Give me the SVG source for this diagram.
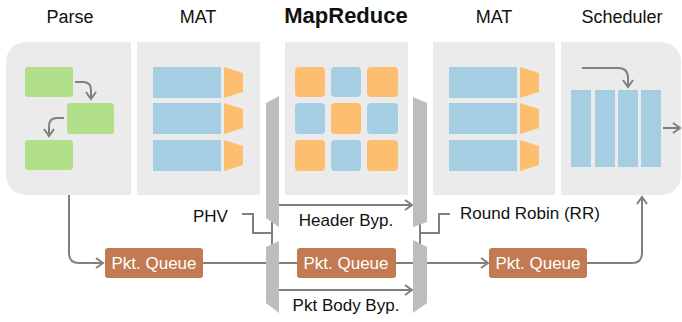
<svg xmlns="http://www.w3.org/2000/svg" width="682" height="322" viewBox="0 0 682 322">
<defs>
<style>
text{font-family:"Liberation Sans",Arial,sans-serif;fill:#111}
.t{font-size:18px;text-anchor:middle}
.tb{font-size:22px;font-weight:bold;text-anchor:middle}
.l{font-size:17px}
.q{font-size:17px;fill:#fff;text-anchor:middle}
.bg{fill:#ebebeb}
.g{fill:#b2df8a}
.b{fill:#a6cee3}
.o{fill:#fdbf6f}
.bar{fill:#bdbdbd}
.qb{fill:#c27a52}
.c{fill:none;stroke:#808080;stroke-width:2}
</style>
<marker id="ah" markerUnits="userSpaceOnUse" markerWidth="12" markerHeight="12" refX="7" refY="5" orient="auto" viewBox="-1 -1 10 12">
<path d="M0,0 L7,5 L0,10" fill="none" stroke="#808080" stroke-width="2"/>
</marker>
</defs>

<g id="titles">
<text class="t" x="70" y="23">Parse</text>
<text class="t" x="198" y="23">MAT</text>
<text class="tb" x="346" y="23">MapReduce</text>
<text class="t" x="494" y="23">MAT</text>
<text class="t" x="622" y="23">Scheduler</text>
</g>

<g id="parse">
<path class="bg" d="M26,42 H131 V195 H26 A20,20 0 0 1 6,175 V62 A20,20 0 0 1 26,42 Z"/>
<rect class="g" x="25" y="67" width="48" height="30" rx="3"/>
<rect class="g" x="67" y="103" width="47" height="31" rx="3"/>
<rect class="g" x="25" y="140" width="48" height="30" rx="3"/>
<path class="c" d="M75,82 H83 Q91,82 91,90 V99" marker-end="url(#ah)"/>
<path class="c" d="M64,118 H57 Q49,118 49,126 V136" marker-end="url(#ah)"/>
</g>

<g id="mat1">
<rect class="bg" x="137" y="42" width="123" height="153"/>
<rect class="b" x="153" y="67" width="68" height="31"/>
<rect class="b" x="153" y="103" width="68" height="31"/>
<rect class="b" x="153" y="140" width="68" height="31"/>
<polygon class="o" points="224,67 243,73 243,92 224,98"/>
<polygon class="o" points="224,103 243,109 243,128 224,134"/>
<polygon class="o" points="224,140 243,146 243,165 224,171"/>
</g>

<g id="mapreduce">
<rect class="bg" x="285" y="42" width="123" height="153"/>
<rect class="o" x="295" y="67" width="30" height="30" rx="4"/>
<rect class="b" x="331" y="67" width="30" height="30" rx="4"/>
<rect class="o" x="367" y="67" width="31" height="30" rx="4"/>
<rect class="b" x="295" y="103" width="30" height="31" rx="4"/>
<rect class="o" x="331" y="103" width="30" height="31" rx="4"/>
<rect class="b" x="367" y="103" width="31" height="31" rx="4"/>
<rect class="o" x="295" y="140" width="30" height="31" rx="4"/>
<rect class="b" x="331" y="140" width="30" height="31" rx="4"/>
<rect class="o" x="367" y="140" width="31" height="31" rx="4"/>
</g>

<g id="mat2">
<rect class="bg" x="433" y="42" width="122" height="153"/>
<rect class="b" x="449" y="67" width="68" height="31"/>
<rect class="b" x="449" y="103" width="68" height="31"/>
<rect class="b" x="449" y="140" width="68" height="31"/>
<polygon class="o" points="520,67 539,73 539,92 520,98"/>
<polygon class="o" points="520,103 539,109 539,128 520,134"/>
<polygon class="o" points="520,140 539,146 539,165 520,171"/>
</g>

<g id="scheduler">
<path class="bg" d="M561,42 H661 A20,20 0 0 1 681,62 V175 A20,20 0 0 1 661,195 H561 Z"/>
<rect class="b" x="571" y="90" width="20" height="77"/>
<rect class="b" x="595" y="90" width="20" height="77"/>
<rect class="b" x="618" y="90" width="20" height="77"/>
<rect class="b" x="641" y="90" width="20" height="77"/>
<path class="c" d="M582,68 H618 Q628,68 628,78 V87" marker-end="url(#ah)"/>
<path class="c" d="M663,128 H680" marker-end="url(#ah)"/>
</g>

<g id="connectors">
<path class="c" d="M69,195 V253 Q69,263 79,263 H103" marker-end="url(#ah)"/>
<path class="c" d="M203,263 H297"/>
<path class="c" d="M396,263 H488" marker-end="url(#ah)"/>
<path class="c" d="M587,263 H632 Q642,263 642,253 V197" marker-end="url(#ah)"/>
<path class="c" d="M242,214 H253 V233 H272"/>
<path class="c" d="M272,222 V245"/>
<path class="c" d="M450,214 H439 V233 H420"/>
<path class="c" d="M420,222 V245"/>
<path class="c" d="M279,205 H412" marker-end="url(#ah)"/>
<path class="c" d="M279,290 H412" marker-end="url(#ah)"/>
</g>

<g id="bars">
<polygon class="bar" points="266,103 279,96 279,227 266,218"/>
<polygon class="bar" points="266,247 279,241 279,313 266,303"/>
<polygon class="bar" points="413,97 427,103 427,222 413,227"/>
<polygon class="bar" points="413,240 427,247 427,303 413,313"/>
</g>

<g id="queue1">
<rect class="qb" x="105" y="248" width="98" height="30" rx="3"/>
<text class="q" x="154" y="269">Pkt. Queue</text>
</g>
<g id="queue2">
<rect class="qb" x="297" y="248" width="99" height="30" rx="3"/>
<text class="q" x="346" y="269">Pkt. Queue</text>
</g>
<g id="queue3">
<rect class="qb" x="489" y="248" width="98" height="30" rx="3"/>
<text class="q" x="538" y="269">Pkt. Queue</text>
</g>

<g id="labels">
<text class="l" x="193" y="222">PHV</text>
<text class="l" x="346" y="226" text-anchor="middle">Header Byp.</text>
<text class="l" x="346" y="311" text-anchor="middle">Pkt Body Byp.</text>
<text class="l" x="460" y="219">Round Robin (RR)</text>
</g>
</svg>
